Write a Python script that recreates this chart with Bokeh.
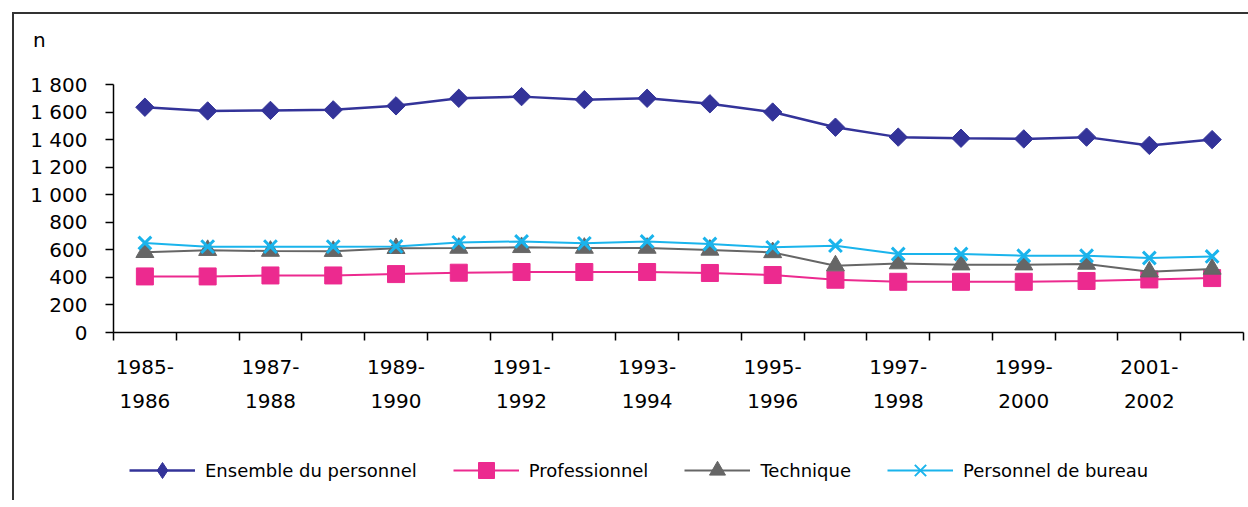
from bokeh.plotting import figure
from bokeh.layouts import column
from bokeh.models import Range1d, FixedTicker, Legend, LegendItem, Div
from bokeh.embed import file_html
from bokeh.resources import INLINE

years = ["1985-1986", "1986-1987", "1987-1988", "1988-1989", "1989-1990", "1990-1991",
         "1991-1992", "1992-1993", "1993-1994", "1994-1995", "1995-1996", "1996-1997",
         "1997-1998", "1998-1999", "1999-2000", "2000-2001", "2001-2002", "2002-2003"]
ensemble = [1635, 1608, 1612, 1616, 1645, 1700, 1712, 1690, 1700, 1660, 1600, 1490,
            1418, 1410, 1405, 1418, 1358, 1400]
professionnel = [407, 407, 414, 414, 424, 434, 439, 439, 439, 432, 417, 383,
                 368, 368, 368, 374, 385, 395]
technique = [582, 597, 591, 590, 611, 613, 618, 613, 613, 599, 581, 485,
             500, 492, 492, 497, 441, 461]
bureau = [650, 623, 623, 623, 625, 654, 661, 647, 661, 642, 618, 630,
          570, 570, 557, 557, 541, 552]
y_ticks = [0, 200, 400, 600, 800, 1000, 1200, 1400, 1600, 1800]
y_tick_labels = ["0", "200", "400", "600", "800", "1 000", "1 200", "1 400", "1 600", "1 800"]
unit_label = "n"

FONT = "DejaVu Sans"
xs = [i + 0.5 for i in range(len(years))]

# top strip with the unit label
top = Div(text=unit_label, width=1234, height=40,
          styles={"font-family": FONT, "font-size": "20px", "line-height": "1",
                  "color": "black", "position": "relative", "left": "14px", "top": "11px"})

# main chart
p = figure(width=1234, height=443, output_backend="svg", toolbar_location=None,
           x_range=Range1d(0, len(years)), y_range=Range1d(0, 1800),
           min_border_left=99, min_border_right=5, min_border_top=20, min_border_bottom=175)
p.outline_line_color = None
p.xgrid.grid_line_color = None
p.ygrid.grid_line_color = None
p.background_fill_color = "white"
p.border_fill_alpha = 0

lab_idx = list(range(0, len(years), 2))
p.xaxis.ticker = FixedTicker(ticks=[xs[i] for i in lab_idx], minor_ticks=list(range(len(years) + 1)))
p.xaxis.major_label_overrides = {xs[i]: years[i].replace("-", "-\n") for i in lab_idx}
p.xaxis.major_tick_out = 0
p.xaxis.major_tick_in = 0
p.xaxis.minor_tick_out = 8
p.xaxis.minor_tick_in = 0
p.xaxis.minor_tick_line_color = "black"
p.xaxis.minor_tick_line_width = 1.5
p.xaxis.axis_line_color = "black"
p.xaxis.axis_line_width = 1.5
p.xaxis.major_label_text_font = FONT
p.xaxis.major_label_text_font_size = "20px"
p.xaxis.major_label_text_color = "black"
p.xaxis.major_label_text_line_height = 1.45
p.xaxis.major_label_standoff = 14

p.yaxis.ticker = FixedTicker(ticks=y_ticks, minor_ticks=[])
p.yaxis.major_label_overrides = dict(zip(y_ticks, y_tick_labels))
p.yaxis.major_tick_out = 8
p.yaxis.major_tick_in = 0
p.yaxis.major_tick_line_color = "black"
p.yaxis.major_tick_line_width = 1.5
p.yaxis.axis_line_color = "black"
p.yaxis.axis_line_width = 1.5
p.yaxis.major_label_text_font = FONT
p.yaxis.major_label_text_font_size = "20px"
p.yaxis.major_label_text_color = "black"
p.yaxis.major_label_standoff = 18

# name, values, colour, marker (chart), marker (legend), size, angle, line width
series = [
    ("Ensemble du personnel", ensemble, "#333399", "square", "diamond", 13, 45, 2.5),
    ("Professionnel", professionnel, "#EC2A8F", "square", "square", 17, 0, 2),
    ("Technique", technique, "#666666", "triangle", "triangle", 18, 0, 2),
    ("Personnel de bureau", bureau, "#1AB4EC", "x", "x", 18, 0, 2),
]

# legend strip (overlapping the empty bottom of the main chart); its own
# renderers lie outside its tiny range, so only the legend shows
leg = figure(width=1234, height=60, output_backend="svg", toolbar_location=None,
             x_axis_type=None, y_axis_type=None, min_border=0,
             x_range=Range1d(0, len(years)), y_range=Range1d(-100, -40))
leg.outline_line_color = None
leg.xgrid.grid_line_color = None
leg.ygrid.grid_line_color = None
leg.background_fill_alpha = 0
leg.border_fill_alpha = 0
leg.styles = {"margin-top": "-67px"}

items = []
for name, vals, color, marker, leg_marker, size, angle, lw in series:
    p.line(xs, vals, line_color=color, line_width=lw)
    ll = leg.line(xs, vals, line_color=color, line_width=lw)
    if marker == "x":
        p.scatter(xs, vals, marker="x", size=size, line_color=color, line_width=3)
        ls = leg.scatter(xs, vals, marker="x", size=size, line_color=color, line_width=2)
    else:
        p.scatter(xs, vals, marker=marker, size=size, fill_color=color, line_color=color,
                  angle=angle, angle_units="deg")
        ls = leg.scatter(xs, vals, marker=leg_marker, size=size, fill_color=color,
                         line_color=color)
    items.append(LegendItem(label=name, renderers=[ll, ls]))

legend = Legend(items=items, orientation="horizontal", location="center_left",
                label_text_font=FONT, label_text_font_size="18px", label_text_color="black",
                glyph_width=66, glyph_height=40, label_standoff=10, spacing=36,
                border_line_color=None, background_fill_alpha=0, padding=0, margin=16)
leg.add_layout(legend, "center")

layout = column(top, p, leg, spacing=0)
layout.styles = {"margin-left": "12px", "margin-top": "12px",
                 "border-left": "2px solid #333333", "border-top": "2px solid #333333"}

open("out.html", "w").write(file_html(layout, INLINE))
